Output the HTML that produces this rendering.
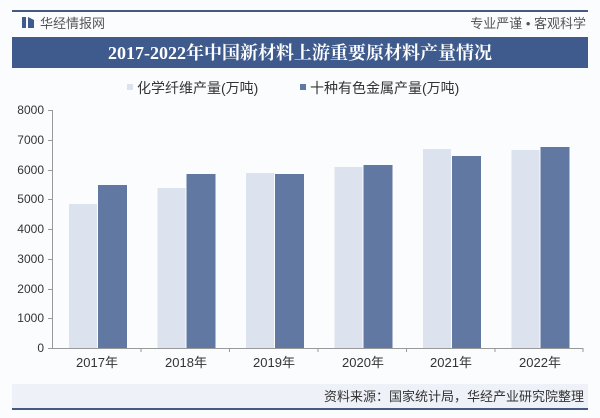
<!DOCTYPE html>
<html><head><meta charset="utf-8"><style>
body{margin:0;background:#fff;}
svg{display:block;font-family:"Liberation Sans","Noto Sans CJK SC",sans-serif;}
</style></head><body>
<svg width="600" height="418" viewBox="0 0 600 418" xmlns="http://www.w3.org/2000/svg">
<rect width="600" height="418" fill="#fbfcfe"/>
<rect x="12" y="10" width="576" height="2" fill="#46597f"/>
<rect x="22" y="17" width="4" height="11" fill="#3f5b8e"/>
<polygon points="28,17 34,20 34,28 28,28" fill="#3f5b8e"/>
<text x="40" y="28" font-size="13" fill="#555">华经情报网</text>
<text x="586" y="28" font-size="13" fill="#555" text-anchor="end">专业严谨 • 客观科学</text>
<rect x="12" y="37" width="576" height="31" fill="#3f5b8e"/>
<text x="300" y="59" font-size="18" font-weight="bold" fill="#fff" text-anchor="middle" font-family="Liberation Serif,Noto Serif CJK SC,serif">2017-2022年中国新材料上游重要原材料产量情况</text>
<rect x="127" y="84" width="6" height="6" fill="#dde3ee"/>
<text x="137" y="93" font-size="14" fill="#333">化学纤维产量(万吨)</text>
<rect x="300" y="84" width="6" height="6" fill="#6178a3"/>
<text x="310" y="93" font-size="14" fill="#333">十种有色金属产量(万吨)</text>
<g font-size="12" fill="#333" text-anchor="end">
<text x="44" y="114">8000</text><text x="44" y="144">7000</text><text x="44" y="174">6000</text><text x="44" y="203">5000</text><text x="44" y="233">4000</text><text x="44" y="263">3000</text><text x="44" y="293">2000</text><text x="44" y="322">1000</text><text x="44" y="352">0</text>
</g>
<g stroke="#999" stroke-width="1">
<line x1="52.5" y1="110" x2="52.5" y2="348"/>
<line x1="48" y1="110.5" x2="52" y2="110.5"/><line x1="48" y1="140.5" x2="52" y2="140.5"/><line x1="48" y1="170.5" x2="52" y2="170.5"/><line x1="48" y1="199.5" x2="52" y2="199.5"/><line x1="48" y1="229.5" x2="52" y2="229.5"/><line x1="48" y1="259.5" x2="52" y2="259.5"/><line x1="48" y1="289.5" x2="52" y2="289.5"/><line x1="48" y1="318.5" x2="52" y2="318.5"/>
<line x1="48" y1="348.5" x2="583" y2="348.5"/>
<line x1="141" y1="348" x2="141" y2="352"/><line x1="229.5" y1="348" x2="229.5" y2="352"/><line x1="318" y1="348" x2="318" y2="352"/><line x1="406.5" y1="348" x2="406.5" y2="352"/><line x1="495" y1="348" x2="495" y2="352"/><line x1="583" y1="348" x2="583" y2="352"/>
</g>
<g fill="#dde3ee">
<rect x="69" y="204" width="28" height="144"/>
<rect x="157.5" y="188" width="28" height="160"/>
<rect x="246" y="173" width="28" height="175"/>
<rect x="334.5" y="167" width="28" height="181"/>
<rect x="423" y="149" width="28" height="199"/>
<rect x="511.5" y="150" width="28" height="198"/>
</g>
<g fill="#6178a3">
<rect x="98" y="185" width="29" height="163"/>
<rect x="186.5" y="174" width="29" height="174"/>
<rect x="275" y="174" width="29" height="174"/>
<rect x="363.5" y="165" width="29" height="183"/>
<rect x="452" y="156" width="29" height="192"/>
<rect x="540.5" y="147" width="29" height="201"/>
</g>
<g font-size="13" fill="#333" text-anchor="middle">
<text x="97" y="367">2017年</text><text x="186" y="367">2018年</text><text x="274" y="367">2019年</text><text x="363" y="367">2020年</text><text x="451" y="367">2021年</text><text x="540" y="367">2022年</text>
</g>
<rect x="12" y="384" width="576" height="24" fill="#eef1f7"/>
<text x="584" y="401" font-size="13" fill="#333" text-anchor="end">资料来源：国家统计局，华经产业研究院整理</text>
<rect x="12" y="408" width="576" height="2" fill="#46597f"/>
</svg>
</body></html>
